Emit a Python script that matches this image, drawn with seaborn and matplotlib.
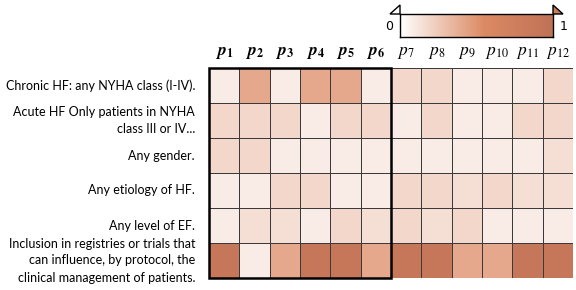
import numpy as np
import pandas as pd
import matplotlib
matplotlib.use('Agg')
import matplotlib.pyplot as plt
import seaborn as sns
from matplotlib.colors import LinearSegmentedColormap
from matplotlib.patches import Rectangle, Polygon

# ----------------------------------------------------------------------------
# Data

criteria = ['Chronic HF: any NYHA class (I-IV).',
            'Acute HF Only patients in NYHA\nclass III or IV...',
            'Any gender.',
            'Any etiology of HF.',
            'Any level of EF.',
            'Inclusion in registries or trials that\ncan influence, by protocol, the\nclinical management of patients.']

papers = [r'$\mathbfit{p}_{\mathbf{%d}}$' % i for i in range(1, 7)] + \
         [r'$p_{%d}$' % i for i in range(7, 13)]

row_chronic = [0.09, 0.41, 0.09, 0.41, 0.41, 0.09, 0.19, 0.19, 0.09, 0.09, 0.09, 0.19]
row_acute = [0.19, 0.19, 0.19, 0.09, 0.19, 0.19, 0.09, 0.19, 0.09, 0.09, 0.19, 0.19]
row_gender = [0.19, 0.19, 0.09, 0.09, 0.09, 0.09, 0.09, 0.09, 0.09, 0.09, 0.09, 0.16]
row_etiology = [0.09, 0.09, 0.19, 0.19, 0.09, 0.09, 0.19, 0.19, 0.16, 0.19, 0.16, 0.16]
row_ef = [0.09, 0.16, 0.16, 0.09, 0.19, 0.16, 0.19, 0.16, 0.19, 0.09, 0.09, 0.09]
row_registry = [0.9, 0.09, 0.41, 0.9, 0.9, 0.41, 0.9, 0.9, 0.41, 0.41, 0.9, 0.9]

# ----------------------------------------------------------------------------

matrix = pd.DataFrame([row_chronic, row_acute, row_gender, row_etiology,
                       row_ef, row_registry], index=criteria, columns=papers)

plt.rcParams['font.family'] = ['Lato', 'DejaVu Sans']
plt.rcParams['mathtext.fontset'] = 'stix'

cmap = LinearSegmentedColormap.from_list(
    'orange', [(0, '#ffffff'), (0.55, '#dc8a64'), (1, '#c07256')])

fig = plt.figure(figsize=(5.76, 2.9), dpi=100)
ax = fig.add_axes([209/576, 1-278/290, 364/576, 210/290])
sns.heatmap(matrix, cmap=cmap, vmin=0, vmax=1, cbar=False, ax=ax,
            linewidths=0.6, linecolor='#3a3a3a')
ax.xaxis.tick_top()
ax.tick_params(axis='both', length=0)
ax.tick_params(axis='x', labelsize=12.5, pad=5)
ax.tick_params(axis='y', labelsize=9, pad=10)
plt.setp(ax.get_yticklabels(), rotation=0, ha='right', ma='right',
         linespacing=1.5)
plt.setp(ax.get_xticklabels(), rotation=0)
ax.set_xlabel('')
ax.set_ylabel('')
ax.add_patch(Rectangle((0, 0), 6, 6, fill=False, edgecolor='black',
                       lw=1.8, clip_on=False, zorder=5))

# colour bar
cax = fig.add_axes([400/576, 1-37/290, 153/576, 23/290])
grad = np.linspace(0, 1, 256).reshape(1, -1)
cax.imshow(grad, cmap=cmap, aspect='auto', extent=[0, 1, 0, 1])
cax.set_xticks([])
cax.set_yticks([])
for s in cax.spines.values():
    s.set_linewidth(1.0)
fig.patches.append(Polygon([[390/576, 1-14/290], [400/576, 1-5/290],
                            [400/576, 1-14/290]], closed=True,
                           transform=fig.transFigure, facecolor='white',
                           edgecolor='black', lw=1.0))
fig.patches.append(Polygon([[553/576, 1-14/290], [553/576, 1-5/290],
                            [563/576, 1-14/290]], closed=True,
                           transform=fig.transFigure, facecolor='#c97a5a',
                           edgecolor='black', lw=1.0))
fig.text(389/576, 1-27/290, '0', ha='center', va='center', fontsize=9,
         family='DejaVu Sans')
fig.text(564/576, 1-27/290, '1', ha='center', va='center', fontsize=9,
         family='DejaVu Sans')

plt.savefig('out.png', dpi=100)
plt.close(fig)
